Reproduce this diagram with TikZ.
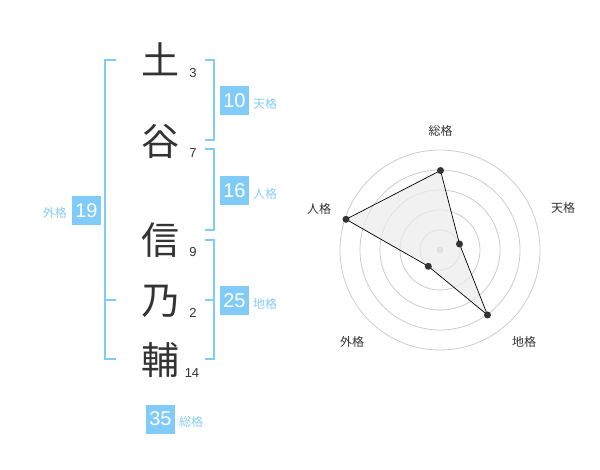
\documentclass[tikz,border=0pt]{standalone}
\usepackage{fontspec}
\setmainfont{Liberation Sans}
\newfontfamily\cjk{Noto Sans CJK JP}
\definecolor{bluebox}{HTML}{80CBF7}
\definecolor{bluetxt}{HTML}{86CDF5}
\definecolor{ink}{HTML}{333333}
\definecolor{ring}{HTML}{CCCCCC}
\begin{document}
\begin{tikzpicture}[x=1pt,y=-1pt,
  kanji/.style={font=\cjk\fontsize{38}{38}\selectfont,text=ink,inner sep=0pt},
  strokes/.style={font=\fontsize{13}{13}\selectfont,text=ink,inner sep=0pt},
  numbox/.style={fill=bluebox,text=white,minimum width=29pt,minimum height=29pt,inner sep=0pt,font=\fontsize{20}{20}\selectfont},
  kaku/.style={font=\cjk\fontsize{12}{12}\selectfont,text=bluetxt,inner sep=0pt},
  brk/.style={draw=bluebox,line width=2pt},
  axislbl/.style={font=\cjk\fontsize{12}{12}\selectfont,text=ink,inner sep=0pt},
  ringc/.style={draw=ring,line width=0.8pt},
  dot/.style={circle,fill=ink,inner sep=0pt,minimum size=7pt}]
\useasboundingbox (0,0) rectangle (600,470);
% characters
\node[kanji] (c1) at (160,59) {土};
\node[kanji] (c2) at (160,141) {谷};
\node[kanji] (c3) at (160,240) {信};
\node[kanji] (c4) at (160,301) {乃};
\node[kanji] (c5) at (160,360) {輔};
\node[strokes] (s1) at (193,73) {3};
\node[strokes] (s2) at (193,153) {7};
\node[strokes] (s3) at (193,252) {9};
\node[strokes] (s4) at (193,313) {2};
\node[strokes] (s5) at (192,373) {14};
% brackets
\draw[brk] (116,60) -- (105,60) -- (105,359) -- (116,359);
\draw[brk] (105,300) -- (116,300);
\draw[brk] (205,60) -- (214,60) -- (214,140) -- (205,140);
\draw[brk] (205,149) -- (214,149) -- (214,230) -- (205,230);
\draw[brk] (205,240) -- (214,240) -- (214,359) -- (205,359);
\draw[brk] (205,300) -- (214,300);
% boxes
\node[numbox] (b10) at (234.5,100.5) {10};
\node[kaku,anchor=west] (k10) at (253,104) {天格};
\node[numbox] (b16) at (234.5,190.5) {16};
\node[kaku,anchor=west] (k16) at (253,194) {人格};
\node[numbox] (b19) at (86.5,210.5) {19};
\node[kaku,anchor=east] (k19) at (67,213) {外格};
\node[numbox] (b25) at (234.5,300.5) {25};
\node[kaku,anchor=west] (k25) at (253,304) {地格};
\node[numbox] (b35) at (160.5,419) {35};
\node[kaku,anchor=west] (k35) at (179,422) {総格};
% radar
\coordinate (o) at (440,250);
\foreach \r in {20,40,60,80,100} \draw[ringc] (o) circle[radius=\r];
\fill[ring] (o) circle[radius=3.5];
\coordinate (p1) at (440.5,170.5);
\coordinate (p2) at (459.5,244);
\coordinate (p3) at (487.5,315);
\coordinate (p4) at (428.3,266.3);
\coordinate (p5) at (346,219.3);
\filldraw[fill=black!8,fill opacity=0.7,draw=black,line width=0.7pt] (p1) -- (p2) -- (p3) -- (p4) -- (p5) -- cycle;
\foreach \p in {p1,p2,p3,p4,p5} \node[dot] at (\p) {};
\node[axislbl] (a1) at (440.7,131) {総格};
\node[axislbl] (a2) at (563,208) {天格};
\node[axislbl] (a3) at (524,342) {地格};
\node[axislbl] (a4) at (352,342) {外格};
\node[axislbl] (a5) at (319,209) {人格};
\end{tikzpicture}
\end{document}
